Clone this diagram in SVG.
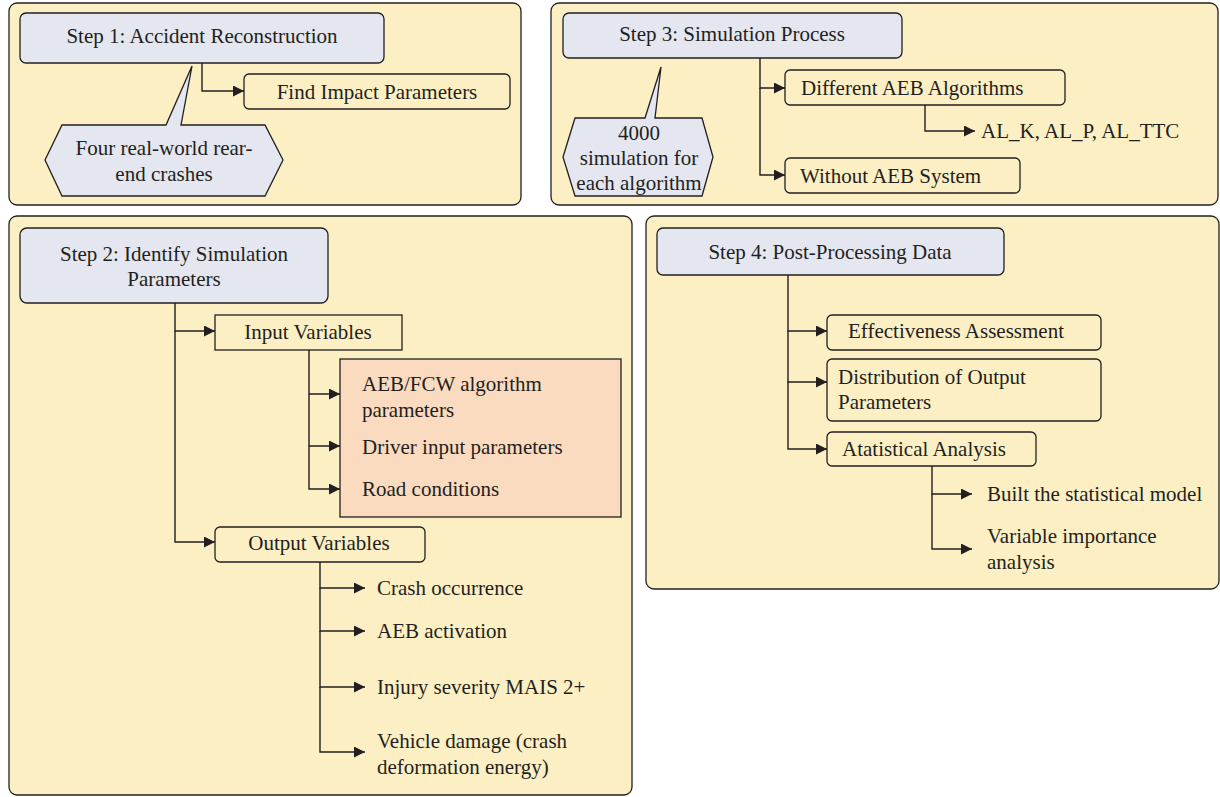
<svg xmlns="http://www.w3.org/2000/svg" width="1220" height="797" viewBox="0 0 1220 797">
<defs>
<marker id="ah" viewBox="0 0 11 11" refX="11" refY="5.5" markerWidth="11" markerHeight="11" markerUnits="userSpaceOnUse" orient="auto">
<path d="M0,0 L11,5.5 L0,11 Z" fill="#231f20"/>
</marker>
<style>
.panel{fill:#fcefc4;stroke:#231f20;stroke-width:1.3}
.step{fill:#e4e6f0;stroke:#231f20;stroke-width:1.3}
.box{fill:#fcefc4;stroke:#231f20;stroke-width:1.3}
.orange{fill:#fadbc0;stroke:#231f20;stroke-width:1.3}
.call{fill:#e4e6f0;stroke:#231f20;stroke-width:1.3}
.arr{fill:none;stroke:#231f20;stroke-width:1.4;marker-end:url(#ah)}
text{font-family:"Liberation Serif","Times New Roman",serif;font-size:21px;fill:#231f20}
.c{text-anchor:middle}
</style>
</defs>
<g id="panel1">
<rect class="panel" x="9" y="3" width="512" height="202" rx="8"/>
</g>
<g id="panel3">
<rect class="panel" x="551" y="3" width="667" height="202" rx="8"/>
</g>
<g id="panel2">
<rect class="panel" x="9" y="216" width="623" height="579" rx="8"/>
</g>
<g id="panel4">
<rect class="panel" x="646" y="216" width="573" height="373" rx="8"/>
</g>
<g id="connectors">
<path class="arr" d="M202,63 V91 H244"/>
<path class="arr" d="M760,58 V88 H785"/>
<path class="arr" d="M760,88 V175 H785"/>
<path class="arr" d="M925,105 V131 H975"/>
<path class="arr" d="M175,303 V331 H215"/>
<path class="arr" d="M175,331 V542 H215"/>
<path class="arr" d="M309,350 V394 H340"/>
<path class="arr" d="M309,394 V446 H340"/>
<path class="arr" d="M309,446 V489 H340"/>
<path class="arr" d="M320,562 V588 H365"/>
<path class="arr" d="M320,588 V631 H365"/>
<path class="arr" d="M320,631 V687 H365"/>
<path class="arr" d="M320,687 V752 H365"/>
<path class="arr" d="M788,275 V331 H827"/>
<path class="arr" d="M788,331 V382 H827"/>
<path class="arr" d="M788,382 V449 H827"/>
<path class="arr" d="M932,466 V494 H972"/>
<path class="arr" d="M932,494 V549 H972"/>
</g>
<g id="step1">
<rect class="step" x="20" y="13" width="364" height="50" rx="6"/>
<text class="c" x="202" y="43">Step 1: Accident Reconstruction</text>
</g>
<g id="find-impact">
<rect class="box" x="244" y="74" width="266" height="35" rx="5"/>
<text class="c" x="377" y="99">Find Impact Parameters</text>
</g>
<g id="callout1">
<path class="call" d="M62,125 H166 L192,66 L181,125 H265 L283,160 L265,196 H62 L45,160 Z"/>
<text class="c" x="164" y="155">Four real-world rear-</text>
<text class="c" x="164" y="181">end crashes</text>
</g>
<g id="step3">
<rect class="step" x="563" y="13" width="339" height="45" rx="6"/>
<text class="c" x="732" y="41">Step 3: Simulation Process</text>
</g>
<g id="diff-aeb">
<rect class="box" x="785" y="70" width="280" height="35" rx="5"/>
<text x="801" y="95">Different AEB Algorithms</text>
</g>
<g id="al">
<text x="981" y="138">AL_K, AL_P, AL_TTC</text>
</g>
<g id="without-aeb">
<rect class="box" x="785" y="158" width="235" height="35" rx="5"/>
<text x="800" y="183">Without AEB System</text>
</g>
<g id="callout3">
<path class="call" d="M575,118 H645 L661,67 L655,118 H702 L713,157 L702,196 H575 L563,157 Z"/>
<text class="c" x="639" y="140">4000</text>
<text class="c" x="639" y="165">simulation for</text>
<text class="c" x="639" y="190">each algorithm</text>
</g>
<g id="step2">
<rect class="step" x="20" y="228" width="308" height="75" rx="7"/>
<text class="c" x="174" y="261">Step 2: Identify Simulation</text>
<text class="c" x="174" y="286">Parameters</text>
</g>
<g id="input-vars">
<rect class="box" x="215" y="315" width="187" height="35"/>
<text class="c" x="308" y="339">Input Variables</text>
</g>
<g id="input-list">
<rect class="orange" x="340" y="359" width="281" height="158"/>
<text x="362" y="391">AEB/FCW algorithm</text>
<text x="362" y="417">parameters</text>
<text x="362" y="454">Driver input parameters</text>
<text x="362" y="496">Road conditions</text>
</g>
<g id="output-vars">
<rect class="box" x="215" y="527" width="210" height="35" rx="5"/>
<text class="c" x="319" y="550">Output Variables</text>
</g>
<g id="output-list">
<text x="377" y="595">Crash occurrence</text>
<text x="377" y="638">AEB activation</text>
<text x="377" y="694">Injury severity MAIS 2+</text>
<text x="377" y="748">Vehicle damage (crash</text>
<text x="377" y="774">deformation energy)</text>
</g>
<g id="step4">
<rect class="step" x="657" y="228" width="347" height="47" rx="6"/>
<text class="c" x="830" y="259">Step 4: Post-Processing Data</text>
</g>
<g id="effectiveness">
<rect class="box" x="827" y="315" width="274" height="35" rx="5"/>
<text x="848" y="338">Effectiveness Assessment</text>
</g>
<g id="distribution">
<rect class="box" x="827" y="359" width="274" height="62" rx="5"/>
<text x="838" y="384">Distribution of Output</text>
<text x="838" y="409">Parameters</text>
</g>
<g id="statistical">
<rect class="box" x="827" y="432" width="209" height="34" rx="5"/>
<text x="842" y="456">Atatistical Analysis</text>
</g>
<g id="stat-list">
<text x="987" y="501">Built the statistical model</text>
<text x="987" y="543">Variable importance</text>
<text x="987" y="569">analysis</text>
</g>
</svg>
